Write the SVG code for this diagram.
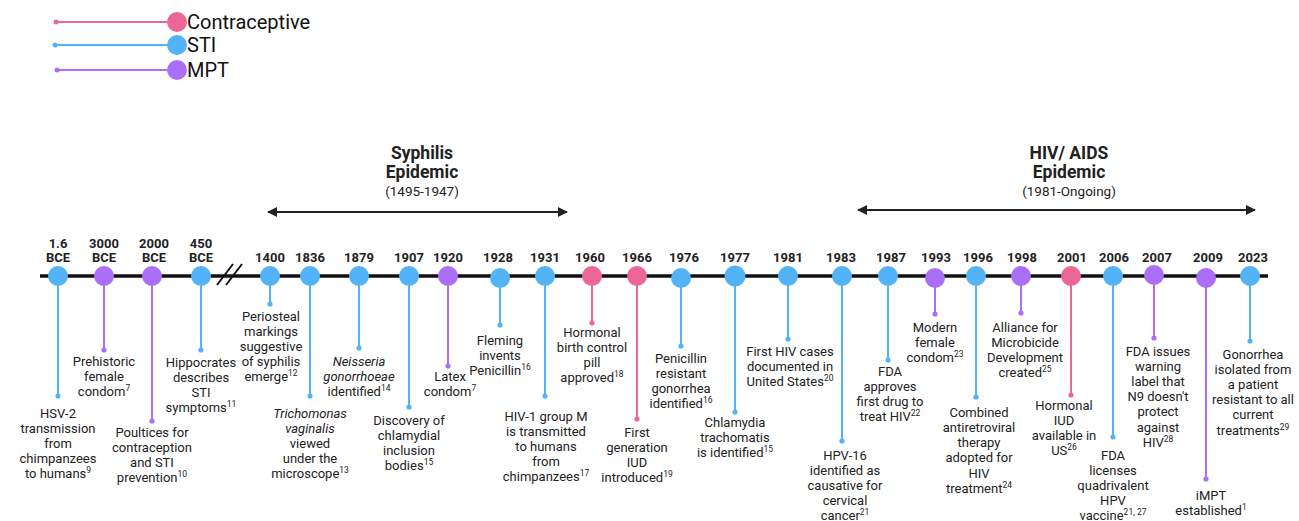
<svg xmlns="http://www.w3.org/2000/svg" width="1299" height="521" viewBox="0 0 1299 521">
<defs>
<style>
text{font-family:Roboto,"Liberation Sans",sans-serif;fill:#222;text-anchor:middle}
.t{font-size:13px}
.yr{font-size:13px;font-weight:bold}
.sup{font-size:8.5px}
.lg{font-size:20px;text-anchor:start;fill:#111}
.h{font-size:17.5px;font-weight:bold}
.hs{font-size:13.5px}
.blue{fill:#52B4F6}
.pink{fill:#EC6698}
.purp{fill:#AB6EF7}
.sb{stroke:#52B4F6;stroke-width:2}
.sp{stroke:#EC6698;stroke-width:2}
.su{stroke:#AB6EF7;stroke-width:2}
.axis{stroke:#111;stroke-width:3.5}
.arr{stroke:#222;stroke-width:2}
</style>
<marker id="ah" viewBox="0 0 10 10" refX="9" refY="5" markerWidth="5" markerHeight="5" orient="auto-start-reverse" markerUnits="strokeWidth">
<path d="M0,0 L10,5 L0,10 z" fill="#222"/>
</marker>
</defs>
<rect width="1299" height="521" fill="#fff"/>

<g id="legend">
<line x1="56" y1="22" x2="177" y2="22" class="sp" stroke-width="1.5"/>
<circle cx="56" cy="22" r="2.5" class="pink"/>
<circle cx="177" cy="22" r="10" class="pink"/>
<text class="lg" x="187" y="29">Contraceptive</text>
<line x1="55" y1="45" x2="177" y2="45" class="sb" stroke-width="1.5"/>
<circle cx="55" cy="45" r="2.5" class="blue"/>
<circle cx="177" cy="45" r="10" class="blue"/>
<text class="lg" x="187" y="52">STI</text>
<line x1="57" y1="70" x2="177" y2="70" class="su" stroke-width="1.5"/>
<circle cx="57" cy="70" r="2.5" class="purp"/>
<circle cx="177" cy="70" r="10" class="purp"/>
<text class="lg" x="187" y="77">MPT</text>
</g>

<g id="connectors">
<line class="axis" x1="40" y1="276" x2="1268" y2="276"/>
<line x1="217" y1="285" x2="233" y2="264" stroke="#111" stroke-width="2"/>
<line x1="226" y1="285" x2="242" y2="264" stroke="#111" stroke-width="2"/>
<line class="arr" x1="268" y1="212" x2="567" y2="212" marker-start="url(#ah)" marker-end="url(#ah)"/>
<line class="arr" x1="858" y1="210" x2="1255" y2="210" marker-start="url(#ah)" marker-end="url(#ah)"/>
<line class="sb" x1="58" y1="280" x2="58" y2="396"/>
<line class="su" x1="104" y1="280" x2="104" y2="350"/>
<line class="su" x1="152" y1="280" x2="152" y2="421"/>
<line class="sb" x1="201" y1="280" x2="201" y2="350"/>
<line class="sb" x1="270" y1="280" x2="270" y2="304"/>
<line class="sb" x1="310" y1="280" x2="310" y2="396"/>
<line class="sb" x1="359" y1="280" x2="359" y2="348"/>
<line class="sb" x1="409" y1="280" x2="409" y2="407"/>
<line class="su" x1="448" y1="280" x2="448" y2="366"/>
<line class="sb" x1="500" y1="280" x2="500" y2="325"/>
<line class="sb" x1="545" y1="280" x2="545" y2="396"/>
<line class="sp" x1="592" y1="280" x2="592" y2="323"/>
<line class="sp" x1="637" y1="280" x2="637" y2="419"/>
<line class="sb" x1="681" y1="280" x2="681" y2="346"/>
<line class="sb" x1="735" y1="280" x2="735" y2="412"/>
<line class="sb" x1="788" y1="280" x2="788" y2="339"/>
<line class="sb" x1="842" y1="280" x2="842" y2="441"/>
<line class="sb" x1="888" y1="280" x2="888" y2="360"/>
<line class="su" x1="935" y1="280" x2="935" y2="314"/>
<line class="sb" x1="976" y1="280" x2="976" y2="397"/>
<line class="su" x1="1021" y1="280" x2="1021" y2="313"/>
<line class="sp" x1="1071" y1="280" x2="1071" y2="395"/>
<line class="sb" x1="1113" y1="280" x2="1113" y2="437"/>
<line class="su" x1="1154" y1="280" x2="1154" y2="338"/>
<line class="su" x1="1206" y1="280" x2="1206" y2="479"/>
<line class="sb" x1="1250" y1="280" x2="1250" y2="341"/>
</g>

<g id="syphilis-epidemic">
<text class="h" x="422" y="159">Syphilis</text>
<text class="h" x="422" y="178">Epidemic</text>
<text class="hs" x="422" y="196">(1495-1947)</text>
</g>
<g id="hiv-epidemic">
<text class="h" x="1069" y="159">HIV/ AIDS</text>
<text class="h" x="1069" y="178">Epidemic</text>
<text class="hs" x="1069" y="196">(1981-Ongoing)</text>
</g>

<g id="n-1-6bce">
<circle cx="58" cy="276" r="10" class="blue"/>
<text class="yr" x="58" y="247.5">1.6</text><text class="yr" x="58" y="261.5">BCE</text>
<circle cx="58" cy="396" r="2.6" class="blue"/>
<text class="t"><tspan x="58" y="417.5">HSV-2</tspan><tspan x="58" y="432.5">transmission</tspan><tspan x="58" y="447.5">from</tspan><tspan x="58" y="462.5">chimpanzees</tspan><tspan x="58" y="477.5">to humans</tspan><tspan class="sup" dy="-5">9</tspan></text>
</g>

<g id="n-3000bce">
<circle cx="104" cy="276" r="10" class="purp"/>
<text class="yr" x="104" y="247.5">3000</text><text class="yr" x="104" y="261.5">BCE</text>
<circle cx="104" cy="350" r="2.6" class="purp"/>
<text class="t"><tspan x="104" y="365.5">Prehistoric</tspan><tspan x="104" y="380.5">female</tspan><tspan x="104" y="395.5">condom</tspan><tspan class="sup" dy="-5">7</tspan></text>
</g>

<g id="n-2000bce">
<circle cx="152" cy="276" r="10" class="purp"/>
<text class="yr" x="154" y="247.5">2000</text><text class="yr" x="154" y="261.5">BCE</text>
<circle cx="152" cy="421" r="2.6" class="purp"/>
<text class="t"><tspan x="152" y="436.5">Poultices for</tspan><tspan x="152" y="451.5">contraception</tspan><tspan x="152" y="466.5">and STI</tspan><tspan x="152" y="481.5">prevention</tspan><tspan class="sup" dy="-5">10</tspan></text>
</g>

<g id="n-450bce">
<circle cx="201" cy="276" r="10" class="blue"/>
<text class="yr" x="201" y="247.5">450</text><text class="yr" x="201" y="261.5">BCE</text>
<circle cx="201" cy="350" r="2.6" class="blue"/>
<text class="t"><tspan x="201" y="366.5">Hippocrates</tspan><tspan x="201" y="381.5">describes</tspan><tspan x="201" y="396.5">STI</tspan><tspan x="201" y="411.5">symptoms</tspan><tspan class="sup" dy="-5">11</tspan></text>
</g>

<g id="n-1400">
<circle cx="270" cy="276" r="10" class="blue"/>
<text class="yr" x="270" y="261.5">1400</text>
<circle cx="270" cy="304" r="2.6" class="blue"/>
<text class="t"><tspan x="271" y="320.5">Periosteal</tspan><tspan x="271" y="335.5">markings</tspan><tspan x="271" y="350.5">suggestive</tspan><tspan x="271" y="365.5">of syphilis</tspan><tspan x="271" y="380.5">emerge</tspan><tspan class="sup" dy="-5">12</tspan></text>
</g>

<g id="n-1836">
<circle cx="310" cy="276" r="10" class="blue"/>
<text class="yr" x="310" y="261.5">1836</text>
<circle cx="310" cy="396" r="2.6" class="blue"/>
<text class="t"><tspan x="310" y="417.5" font-style="italic">Trichomonas</tspan><tspan x="310" y="432.5" font-style="italic">vaginalis</tspan><tspan x="310" y="447.5">viewed</tspan><tspan x="310" y="462.5">under the</tspan><tspan x="310" y="477.5">microscope</tspan><tspan class="sup" dy="-5">13</tspan></text>
</g>

<g id="n-1879">
<circle cx="359" cy="276" r="10" class="blue"/>
<text class="yr" x="359" y="261.5">1879</text>
<circle cx="359" cy="348" r="2.6" class="blue"/>
<text class="t"><tspan x="359" y="365.5" font-style="italic">Neisseria</tspan><tspan x="359" y="380.5" font-style="italic">gonorrhoeae</tspan><tspan x="359" y="395.5">identified</tspan><tspan class="sup" dy="-5">14</tspan></text>
</g>

<g id="n-1907">
<circle cx="409" cy="276" r="10" class="blue"/>
<text class="yr" x="409" y="261.5">1907</text>
<circle cx="409" cy="407" r="2.6" class="blue"/>
<text class="t"><tspan x="409" y="424.5">Discovery of</tspan><tspan x="409" y="439.5">chlamydial</tspan><tspan x="409" y="454.5">inclusion</tspan><tspan x="409" y="469.5">bodies</tspan><tspan class="sup" dy="-5">15</tspan></text>
</g>

<g id="n-1920">
<circle cx="448" cy="276" r="10" class="purp"/>
<text class="yr" x="448" y="261.5">1920</text>
<circle cx="448" cy="366" r="2.6" class="purp"/>
<text class="t"><tspan x="450" y="380.5">Latex</tspan><tspan x="450" y="395.5">condom</tspan><tspan class="sup" dy="-5">7</tspan></text>
</g>

<g id="n-1928">
<circle cx="500" cy="278" r="10" class="blue"/>
<text class="yr" x="498" y="261.5">1928</text>
<circle cx="500" cy="325" r="2.6" class="blue"/>
<text class="t"><tspan x="500" y="344.5">Fleming</tspan><tspan x="500" y="359.5">invents</tspan><tspan x="500" y="374.5">Penicillin</tspan><tspan class="sup" dy="-5">16</tspan></text>
</g>

<g id="n-1931">
<circle cx="545" cy="276" r="10" class="blue"/>
<text class="yr" x="545" y="261.5">1931</text>
<circle cx="545" cy="396" r="2.6" class="blue"/>
<text class="t"><tspan x="546" y="420.5">HIV-1 group M</tspan><tspan x="546" y="435.7">is transmitted</tspan><tspan x="546" y="450.9">to humans</tspan><tspan x="546" y="466.1">from</tspan><tspan x="546" y="481.3">chimpanzees</tspan><tspan class="sup" dy="-5">17</tspan></text>
</g>

<g id="n-1960">
<circle cx="592" cy="276" r="10" class="pink"/>
<text class="yr" x="590" y="261.5">1960</text>
<circle cx="592" cy="323" r="2.6" class="pink"/>
<text class="t"><tspan x="592" y="336.5">Hormonal</tspan><tspan x="592" y="351.5">birth control</tspan><tspan x="592" y="366.5">pill</tspan><tspan x="592" y="381.5">approved</tspan><tspan class="sup" dy="-5">18</tspan></text>
</g>

<g id="n-1966">
<circle cx="637" cy="276" r="10" class="pink"/>
<text class="yr" x="637" y="261.5">1966</text>
<circle cx="637" cy="419" r="2.6" class="pink"/>
<text class="t"><tspan x="637" y="436.5">First</tspan><tspan x="637" y="451.5">generation</tspan><tspan x="637" y="466.5">IUD</tspan><tspan x="637" y="481.5">introduced</tspan><tspan class="sup" dy="-5">19</tspan></text>
</g>

<g id="n-1976">
<circle cx="681" cy="278" r="10" class="blue"/>
<text class="yr" x="684" y="261.5">1976</text>
<circle cx="681" cy="346" r="2.6" class="blue"/>
<text class="t"><tspan x="681" y="362.5">Penicillin</tspan><tspan x="681" y="377.5">resistant</tspan><tspan x="681" y="392.5">gonorrhea</tspan><tspan x="681" y="407.5">identified</tspan><tspan class="sup" dy="-5">16</tspan></text>
</g>

<g id="n-1977">
<circle cx="735" cy="276" r="10.5" class="blue"/>
<text class="yr" x="735" y="261.5">1977</text>
<circle cx="735" cy="412" r="2.6" class="blue"/>
<text class="t"><tspan x="735" y="426.5">Chlamydia</tspan><tspan x="735" y="441.5">trachomatis</tspan><tspan x="735" y="456.5">is identified</tspan><tspan class="sup" dy="-5">15</tspan></text>
</g>

<g id="n-1981">
<circle cx="788" cy="276" r="10" class="blue"/>
<text class="yr" x="788" y="261.5">1981</text>
<circle cx="788" cy="339" r="2.6" class="blue"/>
<text class="t"><tspan x="790" y="355.5">First HIV cases</tspan><tspan x="790" y="370.5">documented in</tspan><tspan x="790" y="385.5">United States</tspan><tspan class="sup" dy="-5">20</tspan></text>
</g>

<g id="n-1983">
<circle cx="842" cy="276" r="10" class="blue"/>
<text class="yr" x="841" y="261.5">1983</text>
<circle cx="842" cy="441" r="2.6" class="blue"/>
<text class="t"><tspan x="845" y="459.5">HPV-16</tspan><tspan x="845" y="474.7">identified as</tspan><tspan x="845" y="489.9">causative for</tspan><tspan x="845" y="505.1">cervical</tspan><tspan x="845" y="520.3">cancer</tspan><tspan class="sup" dy="-5">21</tspan></text>
</g>

<g id="n-1987">
<circle cx="888" cy="276" r="10" class="blue"/>
<text class="yr" x="891" y="261.5">1987</text>
<circle cx="888" cy="360" r="2.6" class="blue"/>
<text class="t"><tspan x="890" y="375.5">FDA</tspan><tspan x="890" y="390.7">approves</tspan><tspan x="890" y="405.9">first drug to</tspan><tspan x="890" y="421.1">treat HIV</tspan><tspan class="sup" dy="-5">22</tspan></text>
</g>

<g id="n-1993">
<circle cx="935" cy="278" r="10" class="purp"/>
<text class="yr" x="936" y="261.5">1993</text>
<circle cx="935" cy="314" r="2.6" class="purp"/>
<text class="t"><tspan x="935" y="331.5">Modern</tspan><tspan x="935" y="346.5">female</tspan><tspan x="935" y="361.5">condom</tspan><tspan class="sup" dy="-5">23</tspan></text>
</g>

<g id="n-1996">
<circle cx="976" cy="276" r="10" class="blue"/>
<text class="yr" x="978" y="261.5">1996</text>
<circle cx="976" cy="397" r="2.6" class="blue"/>
<text class="t"><tspan x="979" y="416.5">Combined</tspan><tspan x="979" y="431.8">antiretroviral</tspan><tspan x="979" y="447.1">therapy</tspan><tspan x="979" y="462.4">adopted for</tspan><tspan x="979" y="477.7">HIV</tspan><tspan x="979" y="493">treatment</tspan><tspan class="sup" dy="-5">24</tspan></text>
</g>

<g id="n-1998">
<circle cx="1021" cy="276" r="10" class="purp"/>
<text class="yr" x="1022" y="261.5">1998</text>
<circle cx="1021" cy="313" r="2.6" class="purp"/>
<text class="t"><tspan x="1025" y="331.5">Alliance for</tspan><tspan x="1025" y="346.5">Microbicide</tspan><tspan x="1025" y="361.5">Development</tspan><tspan x="1025" y="376.5">created</tspan><tspan class="sup" dy="-5">25</tspan></text>
</g>

<g id="n-2001">
<circle cx="1071" cy="276" r="10" class="pink"/>
<text class="yr" x="1072" y="261.5">2001</text>
<circle cx="1071" cy="395" r="2.6" class="pink"/>
<text class="t"><tspan x="1064" y="409.5">Hormonal</tspan><tspan x="1064" y="424.5">IUD</tspan><tspan x="1064" y="439.5">available in</tspan><tspan x="1064" y="454.5">US</tspan><tspan class="sup" dy="-5">26</tspan></text>
</g>

<g id="n-2006">
<circle cx="1113" cy="276" r="10" class="blue"/>
<text class="yr" x="1114" y="261.5">2006</text>
<circle cx="1113" cy="437" r="2.6" class="blue"/>
<text class="t"><tspan x="1113" y="459.5">FDA</tspan><tspan x="1113" y="474.7">licenses</tspan><tspan x="1113" y="489.9">quadrivalent</tspan><tspan x="1113" y="505.1">HPV</tspan><tspan x="1113" y="520.3">vaccine</tspan><tspan class="sup" dy="-5">21, 27</tspan></text>
</g>

<g id="n-2007">
<circle cx="1154" cy="275" r="10" class="purp"/>
<text class="yr" x="1157" y="261.5">2007</text>
<circle cx="1154" cy="338" r="2.6" class="purp"/>
<text class="t"><tspan x="1158" y="355.5">FDA issues</tspan><tspan x="1158" y="370.7">warning</tspan><tspan x="1158" y="385.9">label that</tspan><tspan x="1158" y="401.1">N9 doesn't</tspan><tspan x="1158" y="416.3">protect</tspan><tspan x="1158" y="431.5">against</tspan><tspan x="1158" y="446.7">HIV</tspan><tspan class="sup" dy="-5">28</tspan></text>
</g>

<g id="n-2009">
<circle cx="1206" cy="278" r="10" class="purp"/>
<text class="yr" x="1208" y="261.5">2009</text>
<circle cx="1206" cy="479" r="2.6" class="purp"/>
<text class="t"><tspan x="1211" y="499.5">iMPT</tspan><tspan x="1211" y="514.5">established</tspan><tspan class="sup" dy="-5">1</tspan></text>
</g>

<g id="n-2023">
<circle cx="1250" cy="276" r="10" class="blue"/>
<text class="yr" x="1253" y="261.5">2023</text>
<circle cx="1250" cy="341" r="2.6" class="blue"/>
<text class="t"><tspan x="1253" y="358.5">Gonorrhea</tspan><tspan x="1253" y="373.7">isolated from</tspan><tspan x="1253" y="388.9">a patient</tspan><tspan x="1253" y="404.1">resistant to all</tspan><tspan x="1253" y="419.3">current</tspan><tspan x="1253" y="434.5">treatments</tspan><tspan class="sup" dy="-5">29</tspan></text>
</g>
</svg>
